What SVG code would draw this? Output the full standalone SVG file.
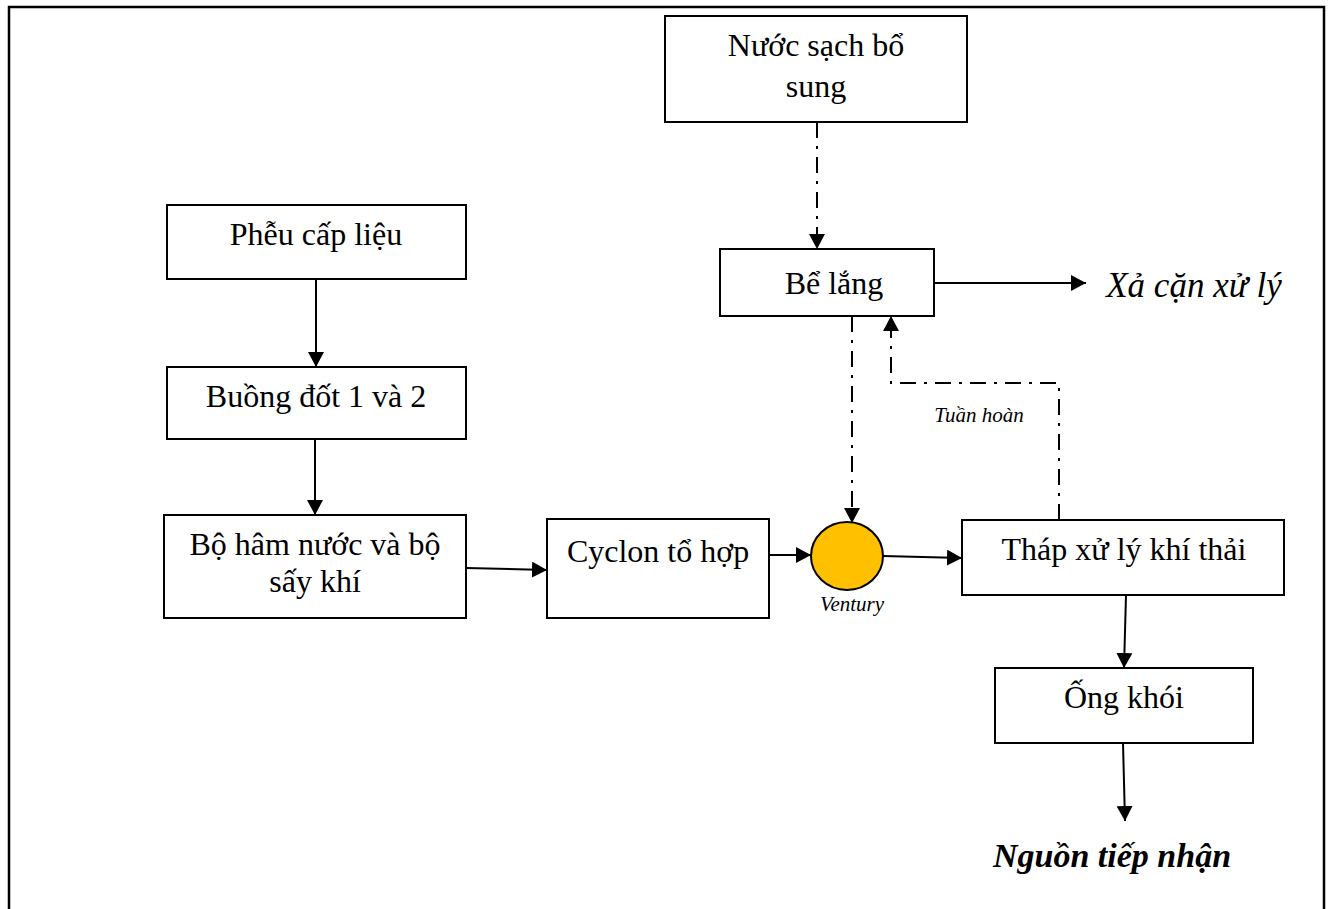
<svg xmlns="http://www.w3.org/2000/svg" width="1330" height="909" viewBox="0 0 1330 909">
<defs>
<style>
.box{fill:#fff;stroke:#000;stroke-width:2}
.t{font-family:"Liberation Serif","Times New Roman",serif;font-size:32px;fill:#000;text-anchor:middle}
.it{font-family:"Liberation Serif","Times New Roman",serif;font-style:italic;fill:#000;text-anchor:middle}
.ln{fill:none;stroke:#000;stroke-width:2}
.dd{fill:none;stroke:#000;stroke-width:2;stroke-dasharray:16 8 3 8}
</style>
<marker id="ah" markerUnits="userSpaceOnUse" markerWidth="16" markerHeight="16" refX="15" refY="8" orient="auto">
<path d="M0,0 L15,8 L0,16 z" fill="#000"/>
</marker>
</defs>
<rect x="0" y="0" width="1330" height="909" fill="#fff"/>
<path d="M9,909 V7 H1324 V909" fill="none" stroke="#000" stroke-width="2.5"/>

<g id="connectors">
<line class="ln" x1="316" y1="279" x2="316" y2="367" marker-end="url(#ah)"/>
<line class="ln" x1="315" y1="439" x2="315" y2="515" marker-end="url(#ah)"/>
<line class="ln" x1="466" y1="568" x2="547" y2="570" marker-end="url(#ah)"/>
<line class="ln" x1="769" y1="555" x2="811" y2="555" marker-end="url(#ah)"/>
<line class="ln" x1="883" y1="556" x2="962" y2="558" marker-end="url(#ah)"/>
<line class="ln" x1="934" y1="283" x2="1086" y2="283" marker-end="url(#ah)"/>
<line class="ln" x1="1126" y1="595" x2="1124" y2="668" marker-end="url(#ah)"/>
<line class="ln" x1="1123" y1="743" x2="1125" y2="821" marker-end="url(#ah)"/>
<line class="dd" x1="817" y1="122" x2="817" y2="249" marker-end="url(#ah)"/>
<line class="dd" x1="852" y1="316" x2="852" y2="523" marker-end="url(#ah)"/>
<polyline class="dd" points="1059,520 1059,383 891,383 891,316" marker-end="url(#ah)"/>
</g>

<g id="n-nuoc-sach">
<rect class="box" x="665" y="16" width="302" height="106"/>
<text class="t" x="816" y="56">Nước sạch bổ</text>
<text class="t" x="816" y="97">sung</text>
</g>
<g id="n-be-lang">
<rect class="box" x="720" y="249" width="214" height="67"/>
<text class="t" x="834" y="294">Bể lắng</text>
</g>
<g id="n-xa-can">
<text class="it" x="1194" y="297" style="font-size:35px">Xả cặn xử lý</text>
</g>
<g id="n-pheu">
<rect class="box" x="167" y="205" width="299" height="74"/>
<text class="t" x="316" y="245">Phễu cấp liệu</text>
</g>
<g id="n-buong-dot">
<rect class="box" x="167" y="367" width="299" height="72"/>
<text class="t" x="316" y="407">Buồng đốt 1 và 2</text>
</g>
<g id="n-bo-ham">
<rect class="box" x="164" y="515" width="302" height="103"/>
<text class="t" x="315" y="555">Bộ hâm nước và bộ</text>
<text class="t" x="315" y="592">sấy khí</text>
</g>
<g id="n-cyclon">
<rect class="box" x="547" y="519" width="222" height="99"/>
<text class="t" x="658" y="562">Cyclon tổ hợp</text>
</g>
<g id="n-venturi">
<ellipse cx="847" cy="556" rx="36" ry="34" fill="#FFC000" stroke="#000" stroke-width="2"/>
<text class="it" x="852" y="611" style="font-size:21px">Ventury</text>
</g>
<g id="n-tuan-hoan">
<text class="it" x="979" y="422" style="font-size:21px">Tuần hoàn</text>
</g>
<g id="n-thap">
<rect class="box" x="962" y="520" width="322" height="75"/>
<text class="t" x="1124" y="560">Tháp xử lý khí thải</text>
</g>
<g id="n-ong-khoi">
<rect class="box" x="995" y="668" width="258" height="75"/>
<text class="t" x="1124" y="708">Ống khói</text>
</g>
<g id="n-nguon">
<text class="it" x="1112" y="867" style="font-size:34px;font-weight:bold">Nguồn tiếp nhận</text>
</g>
</svg>
